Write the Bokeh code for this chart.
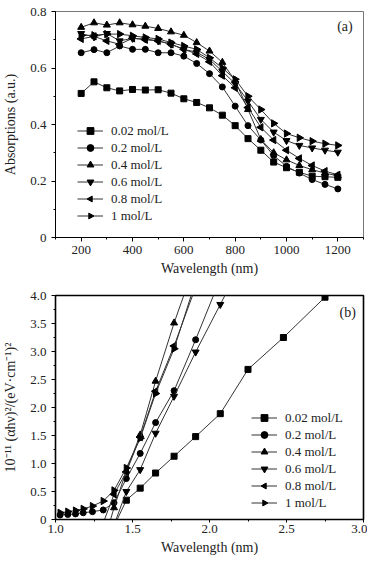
import numpy as np
from bokeh.plotting import figure
from bokeh.layouts import column
from bokeh.models import SingleIntervalTicker, Label, Legend, LegendItem, Range1d, NumeralTickFormatter
from bokeh.embed import file_html
from bokeh.resources import INLINE

nan = np.nan

# ---------------- Panel (a) data ----------------
wavelength = [200, 250, 300, 350, 400, 450, 500, 550, 600, 650, 700,
              750, 800, 850, 900, 950, 1000, 1050, 1100, 1150, 1200]
abs_002 = [0.510, 0.551, 0.530, 0.519, 0.524, 0.522, 0.523, 0.511, 0.491, 0.478, 0.459,
           0.433, 0.396, 0.350, 0.309, 0.267, 0.247, 0.231, 0.217, 0.215, 0.213]
abs_02 = [0.654, 0.665, 0.654, 0.678, 0.666, 0.666, 0.654, 0.654, 0.642, 0.616, 0.580,
          0.533, 0.465, 0.396, 0.345, 0.290, 0.252, 0.228, 0.205, 0.188, 0.172]
abs_04 = [0.744, 0.760, 0.752, 0.760, 0.753, 0.748, 0.740, 0.728, 0.716, 0.690, 0.660,
          0.620, 0.555, 0.453, 0.347, 0.300, 0.275, 0.255, 0.240, 0.228, 0.218]
abs_06 = [0.722, 0.710, 0.722, 0.696, 0.705, 0.703, 0.696, 0.684, 0.666, 0.656, 0.630,
          0.588, 0.545, 0.483, 0.418, 0.373, 0.343, 0.326, 0.317, 0.309, 0.302]
abs_08 = [0.703, 0.712, 0.696, 0.684, 0.705, 0.700, 0.696, 0.684, 0.666, 0.650, 0.622,
          0.573, 0.530, 0.460, 0.390, 0.345, 0.309, 0.280, 0.255, 0.235, 0.222]
abs_1 = [0.715, 0.716, 0.720, 0.720, 0.714, 0.708, 0.703, 0.690, 0.678, 0.666, 0.636,
         0.600, 0.560, 0.500, 0.453, 0.404, 0.368, 0.353, 0.341, 0.332, 0.326]

# ---------------- Panel (b) data ----------------
energy = [2.75, 2.48, 2.25, 2.07, 1.91, 1.77, 1.65, 1.55, 1.46, 1.38, 1.31,
          1.24, 1.18, 1.13, 1.08, 1.03]
tauc_002 = [3.97, 3.25, 2.68, 1.89, 1.48, 1.13, 0.83, 0.56, 0.345, -0.12, nan,
            nan, nan, nan, nan, nan]
tauc_02 = [nan, nan, nan, 4.30, 3.21, 2.30, 1.73, 1.18, 0.73, 0.30, 0.17,
           0.14, 0.12, 0.10, 0.09, 0.08]
tauc_04 = [nan, nan, nan, nan, 4.60, 3.51, 2.47, 1.51, 0.87, 0.21, -0.45,
           nan, nan, nan, nan, nan]
tauc_06 = [nan, nan, 4.80, 3.84, 2.99, 2.20, 1.54, 0.89, 0.50, -0.10, nan,
           nan, nan, nan, nan, nan]
tauc_08 = [nan, nan, nan, nan, 4.15, 3.10, 2.29, 1.47, 0.85, 0.45, -0.06,
           nan, nan, nan, nan, nan]
tauc_1 = [nan, nan, nan, nan, 4.25, 3.05, 2.25, 1.45, 0.92, 0.52, 0.33,
          0.24, 0.19, 0.16, 0.14, 0.12]

labels = ["0.02 mol/L", "0.2 mol/L", "0.4 mol/L", "0.6 mol/L", "0.8 mol/L", "1 mol/L"]
# (marker kind, rotation in radians for ngon, size)
markers = [("square", None, 6), ("circle", None, 6), ("triangle", None, 7),
           ("inverted_triangle", None, 7), ("ngon", np.pi / 2, 4.2), ("ngon", -np.pi / 2, 4.2)]

FONT = "Times New Roman"
LINE = "#333333"


def style(p, xint, yint, outline_w, outline_c, fmt_x, fmt_y):
    for ax in (p.xaxis[0], p.yaxis[0]):
        ax.axis_line_color = "black"
        ax.major_tick_in = 0
        ax.major_tick_out = 4
        ax.minor_tick_in = 0
        ax.minor_tick_out = 2
        ax.major_tick_line_color = "black"
        ax.minor_tick_line_color = "black"
        ax.major_label_text_font = FONT
        ax.major_label_text_font_size = "13px"
        ax.major_label_text_color = "#222222"
        ax.axis_label_text_font = FONT
        ax.axis_label_text_font_size = "14px"
        ax.axis_label_text_font_style = "normal"
        ax.axis_label_text_color = "#222222"
    p.xaxis[0].ticker = SingleIntervalTicker(interval=xint, num_minor_ticks=2)
    p.yaxis[0].ticker = SingleIntervalTicker(interval=yint, num_minor_ticks=2)
    if fmt_x:
        p.xaxis[0].formatter = NumeralTickFormatter(format=fmt_x)
    if fmt_y:
        p.yaxis[0].formatter = NumeralTickFormatter(format=fmt_y)
    p.yaxis[0].major_label_overrides = {0: "0"}
    p.xgrid.visible = False
    p.ygrid.visible = False
    p.outline_line_color = outline_c
    p.outline_line_width = outline_w
    p.background_fill_color = "white"
    p.border_fill_color = "white"


def add_series(p, xs, ys_list):
    items = []
    for ys, lab, (mk, ang, sz) in zip(ys_list, labels, markers):
        lr = p.line(xs, ys, line_color=LINE, line_width=1)
        if mk == "ngon":
            sr = p.ngon(x=xs, y=ys, radius=sz, radius_units="screen", n=3, angle=ang,
                        fill_color="black", line_color="black")
        else:
            sr = p.scatter(xs, ys, marker=mk, size=sz,
                           fill_color="black", line_color="black")
        items.append(LegendItem(label=lab, renderers=[lr, sr]))
    return items


def make_legend(items, loc):
    lg = Legend(items=items, location=loc, orientation="vertical",
                background_fill_alpha=0, border_line_alpha=0,
                label_text_font=FONT, label_text_font_size="13px",
                label_text_color="#222222",
                glyph_width=26, glyph_height=17, label_height=17,
                label_standoff=8, spacing=0, padding=0, margin=0)
    return lg


# ---------------- Panel (a) ----------------
p1 = figure(width=367, height=287, output_backend="svg", toolbar_location=None,
            x_range=Range1d(100, 1300), y_range=Range1d(0, 0.8),
            min_border_left=53, min_border_right=4, min_border_top=11, min_border_bottom=50)
p1.xaxis.axis_label = "Wavelength (nm)"
p1.yaxis.axis_label = "Absorptions (a.u.)"
style(p1, 200, 0.2, 1, "#777777", None, None)
p1.xaxis.major_label_standoff = 4
p1.xaxis.axis_label_standoff = 4
p1.yaxis.major_label_standoff = 5
p1.yaxis.axis_label_standoff = 9
items1 = add_series(p1, wavelength, [abs_002, abs_02, abs_04, abs_06, abs_08, abs_1])
p1.add_layout(make_legend(items1, (22, 13)))
p1.add_layout(Label(x=1258, y=0.747, text="(a)", text_align="right", text_baseline="middle",
                    text_font=FONT, text_font_size="14px", text_color="#222222"))

# ---------------- Panel (b) ----------------
p2 = figure(width=367, height=271, output_backend="svg", toolbar_location=None,
            x_range=Range1d(1.0, 3.0), y_range=Range1d(0, 4.0),
            min_border_left=53, min_border_right=4, min_border_top=8, min_border_bottom=39)
p2.xaxis.axis_label = "Wavelength (nm)"
p2.yaxis.axis_label = "10⁻¹¹ (αhν)²/(eV·cm⁻¹)²"
style(p2, 0.5, 0.5, 1.6, "black", "0.0", "0.0")
p2.xaxis.major_tick_out = 3
p2.xaxis.major_label_standoff = 2
p2.xaxis.axis_label_standoff = 4
p2.yaxis.major_label_standoff = 5
p2.yaxis.axis_label_standoff = 9
items2 = add_series(p2, energy, [tauc_002, tauc_02, tauc_04, tauc_06, tauc_08, tauc_1])
p2.add_layout(make_legend(items2, (196, 8)))
p2.add_layout(Label(x=2.95, y=3.70, text="(b)", text_align="right", text_baseline="middle",
                    text_font=FONT, text_font_size="14px", text_color="#222222"))

layout = column(p1, p2, spacing=0)
open("out.html", "w").write(file_html(layout, INLINE))
